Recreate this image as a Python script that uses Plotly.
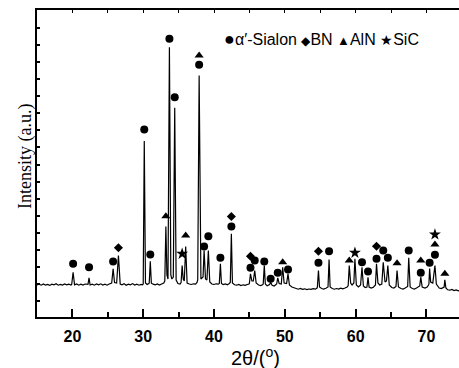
import plotly.graph_objects as go

# ---------------- data ----------------
# XRD pattern vertices (2theta in degrees, intensity in arbitrary units)
two_theta = [
    15.0, 15.3, 15.6, 15.9, 16.2, 16.5, 16.8, 17.1, 17.4, 17.7, 18.0, 18.3, 18.6, 18.9, 19.2, 19.5, 19.8,
    19.9, 20.1, 20.3,
    20.6, 20.9, 21.2, 21.5, 21.8, 22.1,
    22.2, 22.35, 22.5,
    22.8, 23.1, 23.4, 23.7, 24.0, 24.3, 24.6, 24.9, 25.2, 25.4,
    25.55, 25.75, 25.95,
    26.25, 26.5, 26.75,
    27.0, 27.3, 27.6, 27.9, 28.2, 28.5, 28.8, 29.1, 29.4, 29.7, 29.9,
    30.0, 30.15, 30.32,
    30.55, 30.8,
    30.85, 31.0, 31.15,
    31.4, 31.7, 32.0, 32.3, 32.6, 32.9,
    33.05, 33.2, 33.35,
    33.5, 33.7, 33.9, 34.05,
    34.25, 34.45, 34.65,
    34.9, 35.2,
    35.35, 35.5, 35.65,
    35.8, 36.0, 36.2,
    36.5, 36.8, 37.1, 37.4, 37.6,
    37.7, 37.9, 38.15,
    38.45, 38.6, 38.8,
    39.0, 39.2, 39.4,
    39.7, 40.0, 40.3, 40.6,
    40.75, 40.9, 41.05,
    41.3, 41.6, 41.9, 42.15,
    42.3, 42.45, 42.6,
    42.9, 43.2, 43.5, 43.8, 44.1, 44.4, 44.7, 44.95,
    45.0, 45.15, 45.35,
    45.55, 45.75, 45.95,
    46.3, 46.6, 46.85,
    46.95, 47.1, 47.25,
    47.5, 47.75,
    47.85, 48.0, 48.2,
    48.5, 48.75,
    48.85, 49.0, 49.2,
    49.5, 49.7, 49.9,
    50.25, 50.45, 50.65,
    51.0, 51.3, 51.6, 51.9, 52.2, 52.5, 52.8, 53.1, 53.4, 53.7, 54.0, 54.3, 54.55,
    54.6, 54.75, 54.9,
    55.2, 55.5, 55.8, 56.05,
    56.1, 56.25, 56.4,
    56.7, 57.0, 57.3, 57.6, 57.9, 58.2, 58.5, 58.8,
    58.95, 59.1, 59.3,
    59.5, 59.75, 59.9, 60.1,
    60.4, 60.7, 60.9, 61.1,
    61.35, 61.6, 61.75, 61.9,
    62.2, 62.5, 62.75,
    62.8, 62.95, 63.15,
    63.4, 63.7, 63.9, 64.15,
    64.35, 64.55, 64.75,
    65.1, 65.4, 65.65,
    65.7, 65.85, 66.05,
    66.4, 66.7, 67.0, 67.3,
    67.35, 67.5, 67.7,
    68.0, 68.3, 68.6, 68.9,
    69.05, 69.2, 69.4,
    69.8, 70.1, 70.3,
    70.35, 70.45, 70.6,
    70.9, 71.2, 71.4,
    71.8, 72.1, 72.4,
    72.5, 72.6, 72.75,
    73.0, 73.3, 73.6, 73.9, 74.2, 74.5, 74.83,
]
intensity = [
    322, 328, 318, 330, 320, 326, 316, 328, 322, 332, 318, 326, 320, 330, 322, 328, 320,
    325, 448, 322,
    330, 318, 328, 320, 330, 322,
    326, 392, 320,
    328, 318, 330, 322, 332, 320, 328, 318, 330, 335,
    340, 482, 345,
    340, 615, 330,
    322, 332, 318, 328, 322, 334, 320, 328, 318, 326, 322,
    330, 1760, 340,
    325, 335,
    340, 558, 338,
    328, 322, 330, 320, 330, 340,
    360, 905, 420,
    380, 2698, 420, 380,
    400, 2092, 370,
    335, 330,
    345, 515, 380,
    360, 705, 340,
    330, 325, 332, 328, 345,
    370, 2415, 380,
    400, 665, 380,
    370, 665, 350,
    330, 325, 332, 328,
    335, 532, 335,
    325, 330, 322, 335,
    345, 832, 340,
    322, 318, 325, 315, 322, 316, 325, 330,
    340, 432, 360,
    360, 465, 340,
    320, 315, 322,
    330, 515, 330,
    312, 320,
    325, 348, 318,
    310, 320,
    330, 392, 335,
    330, 498, 340,
    335, 432, 320,
    300, 290, 282, 278, 285, 276, 282, 274, 280, 276, 284, 278, 290,
    300, 465, 300,
    285, 280, 288, 295,
    300, 575, 300,
    285, 278, 285, 280, 288, 282, 290, 300,
    315, 515, 340,
    320, 340, 582, 320,
    300, 320, 498, 310,
    295, 300, 398, 300,
    290, 298, 310,
    320, 532, 340,
    320, 330, 548, 350,
    360, 515, 320,
    295, 290, 300,
    305, 465, 300,
    285, 280, 290, 300,
    305, 592, 300,
    285, 280, 290, 300,
    310, 398, 300,
    290, 300, 320,
    330, 485, 350,
    340, 515, 330,
    290, 285, 295,
    300, 372, 290,
    272, 268, 275, 265, 270, 262, 268,
]

# phase markers
sialon_x = [20.1, 22.35, 25.75, 30.15, 31.0, 33.7, 34.45, 37.9, 38.6, 39.2, 40.9, 42.45,
            45.15, 45.75, 47.1, 48.0, 49.0, 50.45, 54.75, 56.25, 60.9, 61.75, 62.95, 63.9,
            64.55, 67.5, 69.2, 70.45, 71.2]
sialon_y = [532, 498, 555, 1875, 625, 2782, 2198, 2522, 705, 808, 592, 905,
            492, 565, 555, 382, 442, 475, 542, 658, 548, 455, 582, 665,
            592, 665, 442, 542, 622]
bn_x = [26.5, 42.45, 45.15, 54.75, 62.95]
bn_y = [692, 1005, 608, 658, 708]
aln_x = [33.2, 36.0, 37.9, 49.7, 59.1, 65.85, 69.2, 71.2, 72.6]
aln_y = [1008, 815, 2615, 548, 565, 538, 565, 725, 432]
sic_x = [35.5, 59.9, 71.2]
sic_y = [632, 642, 825]

x_tick_vals = [20, 30, 40, 50, 60, 70]
x_tick_text = ["20", "30", "40", "50", "60", "70"]

legend_symbols = ["●", "◆", "▲", "★"]
legend_labels = ["α′-Sialon", "BN", "AlN", "SiC"]
x_title = "2θ/(<sup>o</sup>)"
y_title = "Intensity (a.u.)"

# ---------------- figure ----------------
W, H = 459, 368
L, R, T, B = 37, 0, 10, 51
X_RANGE = [15, 74.6]
Y_RANGE = [0, 3070]
PW, PH = W - L - R, H - T - B

fig = go.Figure()
fig.add_trace(go.Scatter(x=two_theta, y=intensity, mode="lines",
                         line=dict(color="black", width=1.2), showlegend=False, hoverinfo="skip"))

marker_sets = [
    (sialon_x, sialon_y, "circle", 8),
    (bn_x, bn_y, "diamond", 7),
    (aln_x, aln_y, "triangle-up", 8),
    (sic_x, sic_y, "star", 9),
]
for xs, ys, sym, sz in marker_sets:
    fig.add_trace(go.Scatter(x=xs, y=ys, mode="markers",
                             marker=dict(symbol=sym, size=sz, color="black", line=dict(width=0)),
                             showlegend=False, hoverinfo="skip"))

# empty trace to register the top axis
fig.add_trace(go.Scatter(x=[None], y=[None], xaxis="x2", yaxis="y", showlegend=False, hoverinfo="skip"))

sym_sizes = [18, 12, 13, 14]
legend_text = " ".join(
    f'<span style="font-size:{s}px">{g}</span>{lab}'
    for g, lab, s in zip(legend_symbols, legend_labels, sym_sizes)
)

fig.update_layout(
    width=W, height=H,
    margin=dict(l=L, r=R, t=T, b=B),
    paper_bgcolor="white", plot_bgcolor="white",
    xaxis=dict(range=X_RANGE, showgrid=False, zeroline=False,
               showline=True, linecolor="black", linewidth=2,
               ticks="inside", ticklen=8, tickwidth=1.5, tickcolor="black",
               tickvals=x_tick_vals, ticktext=x_tick_text,
               tickfont=dict(family="Liberation Sans, Arial", size=16, color="black", weight="bold"),
               ticklabelstandoff=4,
               minor=dict(ticks="inside", ticklen=5, tickwidth=1.5, dtick=5, tick0=15, tickcolor="black")),
    xaxis2=dict(range=X_RANGE, overlaying="x", side="top", anchor="y", showgrid=False, zeroline=False,
                showline=True, linecolor="black", linewidth=2,
                ticks="inside", ticklen=3, tickwidth=1, tickcolor="black", dtick=5, tick0=15,
                showticklabels=False),
    yaxis=dict(range=Y_RANGE, showgrid=False, zeroline=False,
               showline=True, linecolor="black", linewidth=2,
               ticks="inside", ticklen=3, tickwidth=1.5, tickcolor="black",
               tick0=160, dtick=170.6, showticklabels=False),
    annotations=[
        dict(text=legend_text, xref="paper", yref="paper", x=(222 - L) / PW, y=(H - B - 39) / PH,
             xanchor="left", yanchor="middle", showarrow=False,
             font=dict(family="Liberation Sans, Arial", size=16, color="black")),
        dict(text=x_title, xref="paper", yref="paper", x=(255 - L) / PW, y=-(356 - (H - B)) / PH,
             xanchor="center", yanchor="middle", showarrow=False,
             font=dict(family="Liberation Sans, Arial", size=20, color="black")),
        dict(text=y_title, xref="paper", yref="paper", x=(25 - L) / PW, y=(H - B - 157) / PH,
             xanchor="center", yanchor="middle", showarrow=False, textangle=-90,
             font=dict(family="Liberation Serif, Times New Roman", size=18, color="black")),
    ],
)

fig.write_html("out.html", config={"displayModeBar": False},
               post_script="document.body.style.margin='0';document.body.style.padding='0';")
